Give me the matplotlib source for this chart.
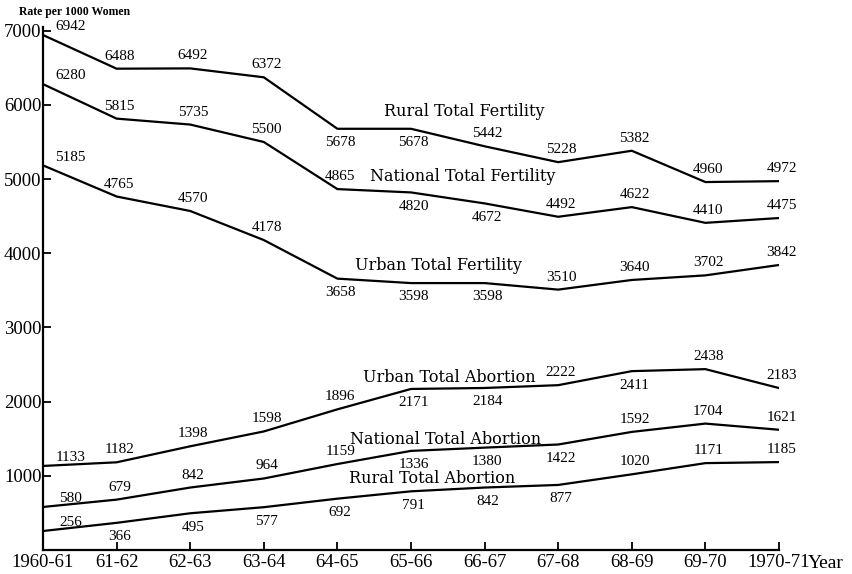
import matplotlib.pyplot as plt

years = ["1960-61", "61-62", "62-63", "63-64", "64-65", "65-66",
         "66-67", "67-68", "68-69", "69-70", "1970-71"]

rural_fert = [6942, 6488, 6492, 6372, 5678, 5678, 5442, 5228, 5382, 4960, 4972]
national_fert = [6280, 5815, 5735, 5500, 4865, 4820, 4672, 4492, 4622, 4410, 4475]
urban_fert = [5185, 4765, 4570, 4178, 3658, 3598, 3598, 3510, 3640, 3702, 3842]
urban_abort = [1133, 1182, 1398, 1598, 1896, 2171, 2184, 2222, 2411, 2438, 2183]
national_abort = [580, 679, 842, 964, 1159, 1336, 1380, 1422, 1592, 1704, 1621]
rural_abort = [256, 366, 495, 577, 692, 791, 842, 877, 1020, 1171, 1185]

series_names = ["Rural Total Fertility", "National Total Fertility", "Urban Total Fertility",
                "Urban Total Abortion", "National Total Abortion", "Rural Total Abortion"]
series_values = [rural_fert, national_fert, urban_fert, urban_abort, national_abort, rural_abort]

# where each value label sits: r = right of first point, a = above, b = below
label_side = [
    "raaabbaaaaa",
    "raaaabbaaaa",
    "raaabbbaaaa",
    "raaaabbabaa",
    "raaaabbbaaa",
    "rbbbbbbbaaa",
]
# series name positions (x index, value)
name_pos = [(5.73, 5911), (5.70, 5034), (5.37, 3833), (5.52, 2321), (5.47, 1484), (5.29, 958)]

plt.rcParams["font.family"] = ["Liberation Serif", "DejaVu Serif"]

fig = plt.figure(figsize=(8.53, 5.74), dpi=100)
ax = fig.add_axes([43 / 853, 24 / 574, (779 - 43) / 853, (547 - 24) / 574])

x = list(range(len(years)))
offsets = {"r": (20, 6), "a": (2, 9), "b": (2, -10)}
for vals, sides in zip(series_values, label_side):
    ax.plot(x, vals, color="black", lw=1.6, solid_joinstyle="round")
    for xi, v, s in zip(x, vals, sides):
        dx, dy = offsets[s]
        ax.annotate(str(v), (xi, v), xytext=(dx, dy), textcoords="offset points",
                    ha="center", va="center", fontsize=11)

for name, (nx, ny) in zip(series_names, name_pos):
    ax.text(nx, ny, name, ha="center", va="center", fontsize=11.5, family="DejaVu Serif")

ax.set_xlim(0, 10)
ax.set_ylim(0, 7050)
ax.set_xticks(x)
ax.set_xticklabels(years, fontsize=13.5)
ax.set_yticks([1000, 2000, 3000, 4000, 5000, 6000, 7000])
ax.set_yticklabels(["1000", "2000", "3000", "4000", "5000", "6000", "7000"], fontsize=13.5)
ax.tick_params(direction="in", length=6, width=1.3, colors="black", pad=3)
ax.tick_params(axis="y", pad=1)
for side in ["top", "right"]:
    ax.spines[side].set_visible(False)
for side in ["left", "bottom"]:
    ax.spines[side].set_linewidth(1.6)

fig.text(19 / 853, 1 - 12 / 574, "Rate per 1000 Women", fontsize=8.5, fontweight="bold",
         ha="left", va="center")
fig.text(808 / 853, 1 - 563 / 574, "Year", fontsize=14, ha="left", va="center")

fig.savefig("out.png", dpi=100)
